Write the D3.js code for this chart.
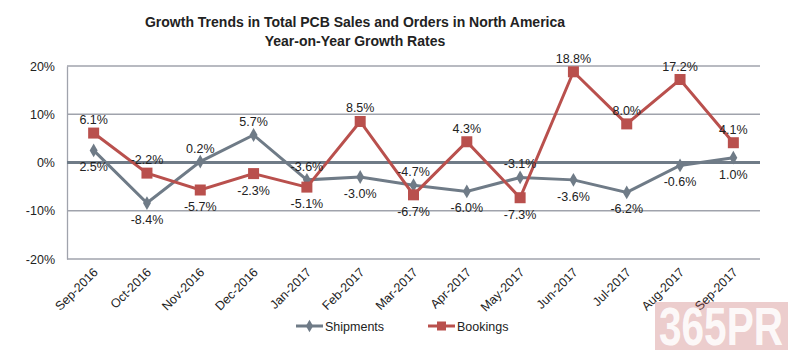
<!DOCTYPE html>
<html>
<head>
<meta charset="utf-8">
<script src="https://cdn.jsdelivr.net/npm/d3@7"></script>
<style>
body{margin:0;background:#fff;}
text{font-family:Arial,"Liberation Sans",sans-serif;}
</style>
</head>
<body>
<script>
var months = ["Sep-2016","Oct-2016","Nov-2016","Dec-2016","Jan-2017","Feb-2017","Mar-2017","Apr-2017","May-2017","Jun-2017","Jul-2017","Aug-2017","Sep-2017"];
var shipments = [2.5,-8.4,0.2,5.7,-3.6,-3.0,-4.7,-6.0,-3.1,-3.6,-6.2,-0.6,1.0];
var bookings = [6.1,-2.2,-5.7,-2.3,-5.1,8.5,-6.7,4.3,-7.3,18.8,8.0,17.2,4.1];
var yTicks = [-20,-10,0,10,20];

// label side for each point (1 = above, -1 = below)
var shipSide = [-1,-1,1,1,1,-1,1,-1,1,-1,-1,-1,-1];
var bookSide = [1,1,-1,-1,-1,1,-1,1,-1,1,1,1,1];

var width = 788;
var height = 350;
var padding = {top:66,right:28,bottom:91,left:67};

var shipColor = "#6f7b87";
var bookColor = "#b9504d";

var svg = d3.select("body")
.append("svg")
.attr("width",width)
.attr("height",height);

var xScale = d3.scaleBand()
.domain(months)
.range([padding.left,width - padding.right]);

var yScale = d3.scaleLinear()
.domain([-20,20])
.range([height - padding.bottom,padding.top]);

var cx = function(d,i){ return xScale(months[i]) + xScale.bandwidth()/2; };

// title
svg.append("text")
.attr("x",355).attr("y",27)
.attr("text-anchor","middle")
.attr("font-size","14px").attr("font-weight","bold").attr("fill","#222")
.text("Growth Trends in Total PCB Sales and Orders in North America");
svg.append("text")
.attr("x",355).attr("y",46)
.attr("text-anchor","middle")
.attr("font-size","14px").attr("font-weight","bold").attr("fill","#222")
.text("Year-on-Year Growth Rates");

// grid lines
svg.selectAll(".grid")
.data(yTicks.filter(function(d){ return d !== 0; }))
.enter()
.append("line")
.attr("x1",padding.left).attr("x2",width - padding.right)
.attr("y1",function(d){ return yScale(d); })
.attr("y2",function(d){ return yScale(d); })
.attr("stroke","#a0a3ac").attr("stroke-width",1.3);

// y axis
var yAxis = d3.axisLeft(yScale)
.tickValues(yTicks)
.tickSize(0)
.tickPadding(12)
.tickFormat(function(d){ return d + "%"; });

var gy = svg.append("g")
.attr("transform","translate(" + padding.left + ",0)")
.call(yAxis);
gy.select(".domain").attr("stroke","#a0a3ac").attr("stroke-width",1.3);
gy.selectAll("text").attr("font-size","12.5px").attr("fill","#222").attr("font-family","Arial,'Liberation Sans',sans-serif");

// zero line
svg.append("line")
.attr("x1",padding.left).attr("x2",width - padding.right)
.attr("y1",yScale(0)).attr("y2",yScale(0))
.attr("stroke","#6f7b87").attr("stroke-width",3);

// x axis labels
var xAxis = d3.axisBottom(xScale).tickSize(0).tickPadding(0);
var gx = svg.append("g")
.attr("transform","translate(0," + (height - padding.bottom) + ")")
.call(xAxis);
gx.select(".domain").remove();
gx.selectAll("text")
.attr("font-size","12.5px").attr("fill","#222")
.attr("font-family","Arial,'Liberation Sans',sans-serif")
.attr("text-anchor","end")
.attr("dy","0")
.attr("transform","translate(5,14) rotate(-45)");

var line = d3.line()
.x(cx)
.y(function(d){ return yScale(d); });

// shipments
svg.append("path")
.attr("d",line(shipments))
.attr("fill","none").attr("stroke",shipColor).attr("stroke-width",3);
svg.selectAll(".shipPt")
.data(shipments)
.enter()
.append("path")
.attr("d",d3.symbol().type(d3.symbolDiamond).size(55))
.attr("transform",function(d,i){ return "translate(" + cx(d,i) + "," + yScale(d) + ")"; })
.attr("fill",shipColor);

// bookings
svg.append("path")
.attr("d",line(bookings))
.attr("fill","none").attr("stroke",bookColor).attr("stroke-width",3);
svg.selectAll(".bookPt")
.data(bookings)
.enter()
.append("rect")
.attr("x",function(d,i){ return cx(d,i) - 5.5; })
.attr("y",function(d){ return yScale(d) - 5.5; })
.attr("width",11).attr("height",11)
.attr("fill",bookColor);

// value labels
function addLabels(values,side){
	svg.selectAll(null)
	.data(values)
	.enter()
	.append("text")
	.attr("x",cx)
	.attr("y",function(d,i){ return yScale(d) + (side[i] > 0 ? -9 : 21); })
	.attr("text-anchor","middle")
	.attr("font-size","12.5px").attr("fill","#222")
	.text(function(d){ return d.toFixed(1) + "%"; });
}
addLabels(shipments,shipSide);
addLabels(bookings,bookSide);

// legend
var legend = [{name:"Shipments",color:shipColor,x:296,type:"diamond"},
	{name:"Bookings",color:bookColor,x:428,type:"square"}];
legend.forEach(function(l){
	var ly = 326;
	svg.append("line")
	.attr("x1",l.x).attr("x2",l.x + 27)
	.attr("y1",ly).attr("y2",ly)
	.attr("stroke",l.color).attr("stroke-width",3);
	if(l.type === "diamond"){
		svg.append("path")
		.attr("d",d3.symbol().type(d3.symbolDiamond).size(45))
		.attr("transform","translate(" + (l.x + 13.5) + "," + ly + ")")
		.attr("fill",l.color);
	}else{
		svg.append("rect")
		.attr("x",l.x + 9).attr("y",ly - 4.5)
		.attr("width",9).attr("height",9)
		.attr("fill",l.color);
	}
	svg.append("text")
	.attr("x",l.x + 29).attr("y",ly + 4.5)
	.attr("font-size","12.5px").attr("fill","#222")
	.text(l.name);
});

// watermark (semi-transparent, axis label shows through)
svg.append("rect")
.attr("x",655).attr("y",302).attr("width",133).attr("height",48)
.attr("fill","#c05a5a").attr("fill-opacity",0.3);
svg.append("text")
.attr("x",659).attr("y",345)
.attr("font-size","53px").attr("font-weight","bold").attr("fill","#fff")
.attr("fill-opacity",0.9)
.attr("font-family","'DejaVu Sans Condensed','Liberation Sans Narrow',sans-serif")
.attr("textLength",124).attr("lengthAdjust","spacingAndGlyphs")
.text("365PR");
</script>
</body>
</html>
